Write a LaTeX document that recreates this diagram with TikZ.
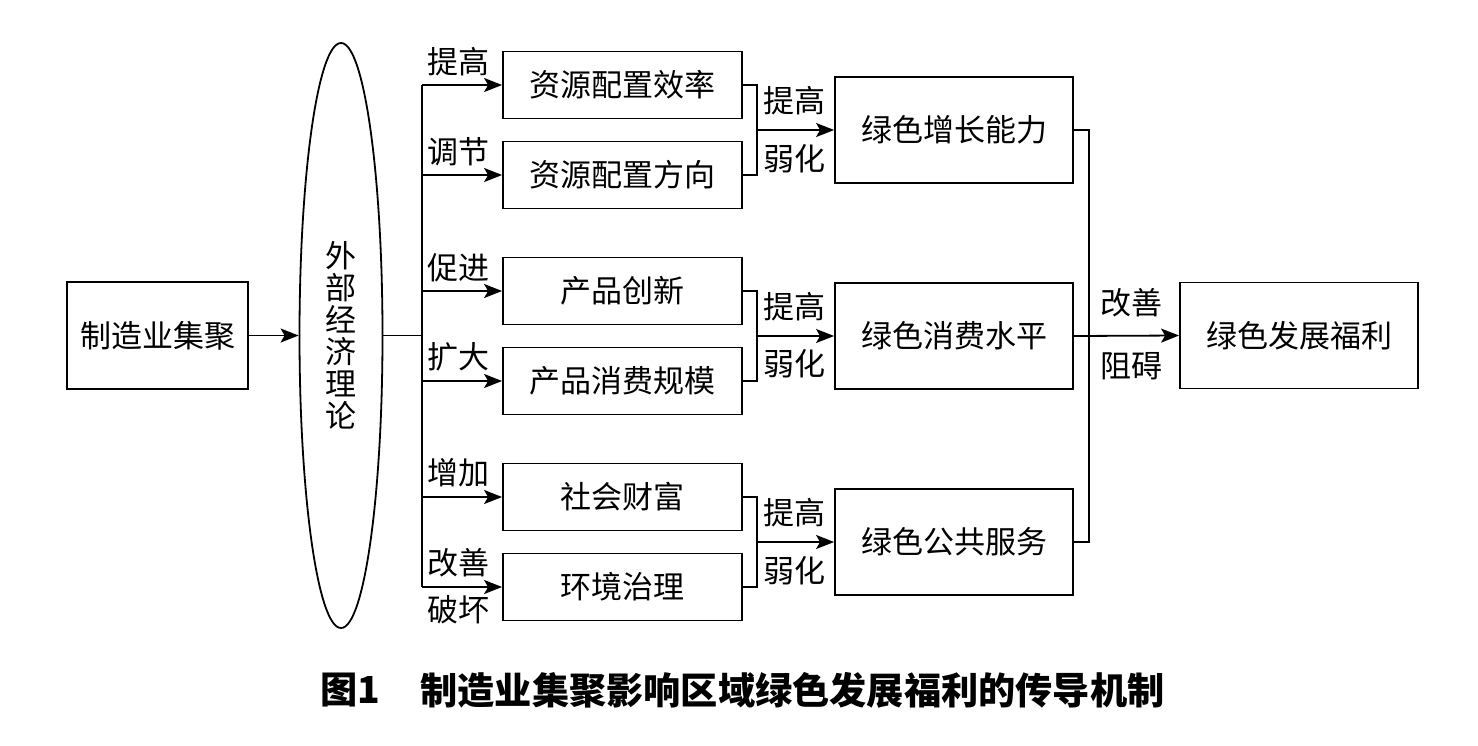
\documentclass[tikz,border=0pt]{standalone}
\usepackage{fontspec}
\newfontfamily\cjk{Noto Sans CJK SC}
\usetikzlibrary{shapes.geometric,arrows.meta}
\begin{document}
\begin{tikzpicture}[x=0.5pt,y=-0.5pt,
  txt/.style={font={\cjk\fontsize{15.5}{16}\selectfont}},
  box/.style={draw,line width=0.9pt,txt,inner sep=0pt},
  midbox/.style={box,minimum width=119.5pt,minimum height=33.5pt},
  rbox/.style={box,minimum width=119pt,minimum height=53pt},
  ln/.style={line width=0.9pt},
  arr/.style={ln,-{Stealth[length=9pt,width=7pt,inset=2pt]}},
  lab/.style={txt,inner sep=0pt},
  capf/.style={anchor=west,inner sep=0pt,font={\cjk\bfseries\fontsize{18.6}{20}\selectfont}}]
\useasboundingbox (0,0) rectangle (1478,745);
% left box and ellipse
\node[box,minimum width=90.5pt,minimum height=53.5pt] (src) at (157.5,335.5) {制造业集聚};
\node[draw,ellipse,line width=0.9pt,minimum width=41.5pt,minimum height=292.5pt,inner sep=0pt] (ell) at (341,335.5) {};
\node[txt,align=center] (elltxt) at (341,335.5) {外\\部\\经\\济\\理\\论};
\draw[arr] (src.east) -- (ell.west);
% middle boxes
\node[midbox] (m1) at (622.5,85) {资源配置效率};
\node[midbox] (m2) at (622.5,175) {资源配置方向};
\node[midbox] (m3) at (622.5,291) {产品创新};
\node[midbox] (m4) at (622.5,381) {产品消费规模};
\node[midbox] (m5) at (622.5,497) {社会财富};
\node[midbox] (m6) at (622.5,587) {环境治理};
% right boxes
\node[rbox] (r1) at (954,130) {绿色增长能力};
\node[rbox] (r2) at (954,336) {绿色消费水平};
\node[rbox] (r3) at (954,542) {绿色公共服务};
\node[rbox] (fin) at (1299,335.5) {绿色发展福利};
% trunk
\coordinate (tj) at (422,335.5);
\coordinate (t1) at (422,85);
\coordinate (t2) at (422,175);
\coordinate (t3) at (422,291);
\coordinate (t4) at (422,381);
\coordinate (t5) at (422,497);
\coordinate (t6) at (422,587);
\draw[ln] (ell.east) -- (tj);
\draw[ln] (t1) -- (t6);
\foreach \i in {1,...,6}{\draw[arr] (t\i) -- (m\i.west);}
% trunk labels
\node[lab] (l1) at (458,62) {提高};
\node[lab] (l2) at (458,152) {调节};
\node[lab] (l3) at (458,268) {促进};
\node[lab] (l4) at (458,357) {扩大};
\node[lab] (l5) at (458,473) {增加};
\node[lab] (l6) at (458,563) {改善};
\node[lab] (l7) at (458,610) {破坏};
% brackets
\coordinate (b1) at (757,130);
\coordinate (b2) at (757,336);
\coordinate (b3) at (757,542);
\draw[ln] (m1.east) -| (b1) |- (m2.east);
\draw[ln] (m3.east) -| (b2) |- (m4.east);
\draw[ln] (m5.east) -| (b3) |- (m6.east);
\draw[arr] (b1) -- (r1.west);
\draw[arr] (b2) -- (r2.west);
\draw[arr] (b3) -- (r3.west);
\node[lab] (u1) at (794,101) {提高};
\node[lab] (d1) at (794,159) {弱化};
\node[lab] (u2) at (794,307) {提高};
\node[lab] (d2) at (794,364) {弱化};
\node[lab] (u3) at (794,513) {提高};
\node[lab] (d3) at (794,571) {弱化};
% collector
\coordinate (c1) at (1089,130);
\coordinate (c3) at (1089,542);
\draw[ln] (r1.east) -- (c1) -- (c3) -- (r3.east);
\draw[arr] (r2.east) -- (fin.west);
\node[lab] (g1) at (1131,303) {改善};
\node[lab] (g2) at (1131,366) {阻碍};
% caption
\node[capf] (cap1) at (320,690) {图1};
\node[capf] (cap2) at (420,690) {制造业集聚影响区域绿色发展福利的传导机制};
\end{tikzpicture}
\end{document}
